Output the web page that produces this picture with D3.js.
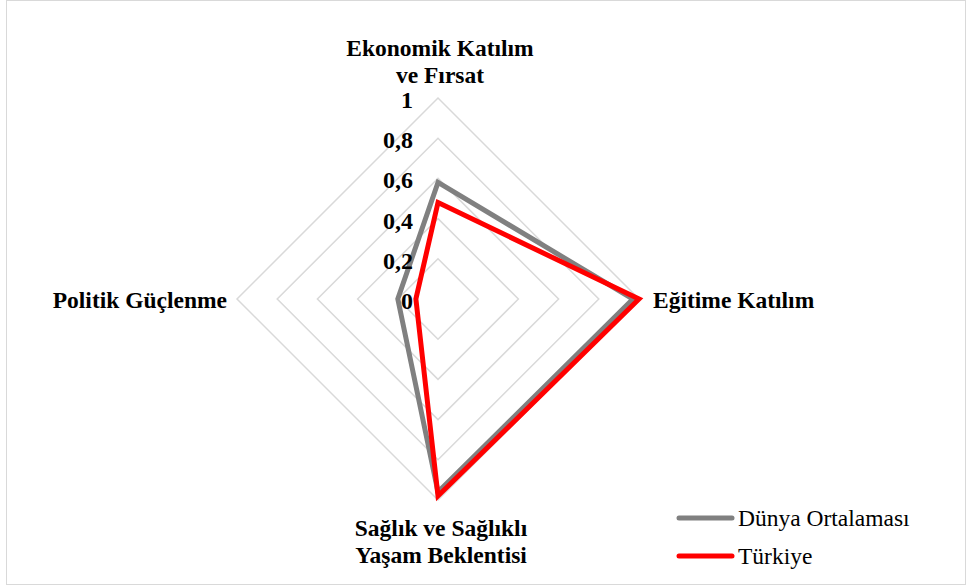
<!DOCTYPE html>
<html><head><meta charset="utf-8">
<script src="https://cdn.jsdelivr.net/npm/d3@7"></script>
<style>body{margin:0;background:#fff}svg{display:block}text{font-family:"Liberation Serif","Times New Roman",Times,serif}</style>
</head><body>
<svg id="c" width="969" height="587"></svg>
<script>
const categories = [["Ekonomik Katılım","ve Fırsat"],["Eğitime Katılım"],["Sağlık ve Sağlıklı","Yaşam Beklentisi"],["Politik Güçlenme"]];
const seriesNames = ["Dünya Ortalaması","Türkiye"];
const dunya = [0.58, 0.97, 0.96, 0.20];
const turkiye = [0.48, 1.00, 0.98, 0.11];
const ticks = [0, 0.2, 0.4, 0.6, 0.8, 1];
const tickLabels = ["0","0,2","0,4","0,6","0,8","1"];
const colors = ["#808080","#ff0000"];

const svg = d3.select("#c");
svg.append("rect").attr("x",6.5).attr("y",0.5).attr("width",959).attr("height",584)
  .attr("fill","#fff").attr("stroke","#d9d9d9").attr("stroke-width",1);

const cx = 438, cy = 299;
const r = d3.scaleLinear().domain([0,1]).range([0,201]);
const ang = d3.scaleLinear().domain([0,categories.length]).range([0,2*Math.PI]);
const g = svg.append("g").attr("transform",`translate(${cx},${cy})`);

const radial = d3.lineRadial().angle((d,i)=>ang(i)).radius(d=>r(d)).curve(d3.curveLinearClosed);

ticks.filter(t=>t>0).forEach(t=>{
  g.append("path").attr("d", radial(categories.map(()=>t)))
    .attr("fill","none").attr("stroke","#d9d9d9").attr("stroke-width",1.5);
});

[dunya, turkiye].forEach((s,k)=>{
  g.append("path").attr("d", radial(s)).attr("fill","none")
    .attr("stroke",colors[k]).attr("stroke-width",5).attr("stroke-linejoin","miter");
});

ticks.forEach((t,i)=>{
  g.append("text").attr("x",-25).attr("y",-r(t)+10)
    .attr("text-anchor","end")
    .attr("font-weight","bold").attr("font-size",24).attr("fill","#000")
    .text(tickLabels[i]);
});

function lbl(x,y,anchor,lines){
  const t = svg.append("text").attr("text-anchor",anchor)
    .attr("font-weight","bold").attr("font-size",23.5).attr("fill","#000");
  lines.forEach((l,i)=>t.append("tspan").attr("x",x).attr("y",y+i*27).text(l));
}
lbl(cx+2, 56, "middle", categories[0]);
lbl(cx+r(1)+14, 308, "start", categories[1]);
lbl(cx+3, 536, "middle", categories[2]);
lbl(cx-r(1)-10, 308, "end", categories[3]);

seriesNames.forEach((n,i)=>{
  const y = 518 + i*38;
  svg.append("line").attr("x1",679).attr("x2",732).attr("y1",y).attr("y2",y)
    .attr("stroke",colors[i]).attr("stroke-width",5).attr("stroke-linecap","round");
  svg.append("text").attr("x",738).attr("y",y+8)
    .attr("font-size",23.5).attr("fill","#000").text(n);
});
</script>
</body></html>
